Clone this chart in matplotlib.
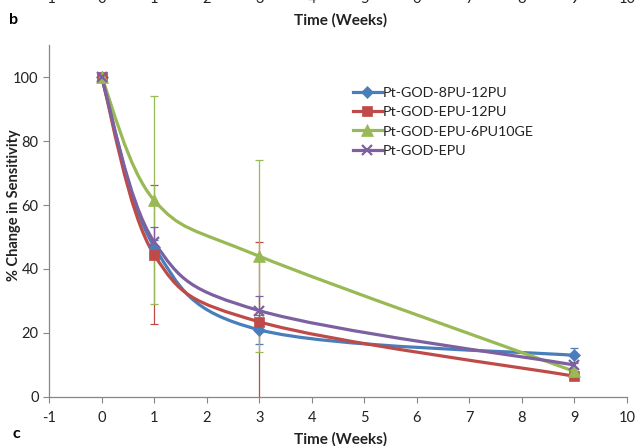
import matplotlib
matplotlib.use("Agg")
import numpy as np
from matplotlib import pyplot as plt
from matplotlib.path import Path
from matplotlib.patches import PathPatch
from matplotlib.lines import Line2D

plt.rcParams["font.family"] = ["Lato", "DejaVu Sans"]
plt.rcParams["axes.unicode_minus"] = False

# data
weeks = [0, 1, 3, 9]
labels = ["Pt-GOD-8PU-12PU", "Pt-GOD-EPU-12PU", "Pt-GOD-EPU-6PU10GE", "Pt-GOD-EPU"]
blue_vals = [100, 47, 21, 13]
red_vals = [100, 44.5, 23.5, 6.5]
green_vals = [100, 61.5, 44, 8]
purple_vals = [100, 48.5, 27, 10]
blue_err = [0, 2, 4.5, 2.3]
red_err = [0, 21.7, 25, 1]
green_err = [0, 32.5, 30, 1]
purple_err = [0, 4.5, 4.6, 1]
xticks = list(range(-1, 11))
yticks = [0, 20, 40, 60, 80, 100]

series = [
    (blue_vals, blue_err, "#4A7EBB", "D", 6),
    (red_vals, red_err, "#BE4B48", "s", 7.5),
    (green_vals, green_err, "#98B954", "^", 8),
    (purple_vals, purple_err, "#7D60A0", "x", 7),
]


def smooth_path(xs, ys, t=1 / 6):
    # Excel style smoothed line: cubic bezier through every point
    pts = np.column_stack([xs, ys]).astype(float)
    n = len(pts)
    verts = [pts[0]]
    codes = [Path.MOVETO]
    for i in range(n - 1):
        p_prev = pts[max(i - 1, 0)]
        p0 = pts[i]
        p1 = pts[i + 1]
        p_next = pts[min(i + 2, n - 1)]
        c1 = p0 + (p1 - p_prev) * t
        c2 = p1 - (p_next - p0) * t
        verts += [c1, c2, p1]
        codes += [Path.CURVE4] * 3
    return Path(verts, codes)


fig = plt.figure(figsize=(6.36, 4.46), dpi=100)
ax = fig.add_axes([49 / 636, 1 - 397 / 446, 578 / 636, 352 / 446])

handles = []
for vals, err, col, mk, ms in series:
    ax.errorbar(weeks, vals, yerr=err, fmt="none", ecolor=col, elinewidth=0.9,
                capsize=3, capthick=0.9, zorder=1)
for vals, err, col, mk, ms in series:
    ax.add_patch(PathPatch(smooth_path(weeks, vals), fill=False, edgecolor=col,
                           linewidth=2.3, zorder=2, capstyle="round"))
    ax.plot(weeks, vals, linestyle="none", marker=mk, color=col, markersize=ms,
            markeredgewidth=1.6 if mk == "x" else 0.5, zorder=3)
    handles.append(Line2D([], [], color=col, linewidth=2.3, marker=mk,
                          markersize=ms, markeredgewidth=1.6 if mk == "x" else 0.5))

ax.set_xlim(-1, 10)
ax.set_ylim(0, 110)
ax.set_xticks(xticks)
ax.set_yticks(yticks)
for s in ["top", "right"]:
    ax.spines[s].set_visible(False)
for s in ["left", "bottom"]:
    ax.spines[s].set_color("#868686")
    ax.spines[s].set_linewidth(0.9)
ax.tick_params(colors="#868686", labelcolor="#222222", labelsize=10.5,
               length=4, width=0.8, direction="out")
ax.tick_params(axis="x", pad=6)

ax.set_ylabel("% Change in Sensitivity", fontsize=10.5, fontweight="bold",
              color="#222222")
ax.yaxis.set_label_coords(-0.048, 0.545)

leg = ax.legend(handles, labels, loc="upper left", frameon=False, fontsize=10.3,
                bbox_to_anchor=(346 / 636, 1 - 80 / 446),
                bbox_transform=fig.transFigure, borderpad=0, handlelength=2.0,
                handletextpad=0.05, labelspacing=0.5)
for txt in leg.get_texts():
    txt.set_color("#222222")

# cropped neighbouring panels from the original figure
fig.text(341 / 636, 1 - 439 / 446, "Time (Weeks)", ha="center", va="center",
         fontsize=11, fontweight="bold", color="#222222")
fig.text(341 / 636, 1 - 20 / 446, "Time (Weeks)", ha="center", va="center",
         fontsize=11, fontweight="bold", color="#222222")
for xt in xticks:
    xf = (49 + (xt + 1) * 578 / 11) / 636
    fig.text(xf, 1 + 1 / 446, str(xt), ha="center", va="center",
             fontsize=10.5, color="#222222")
fig.text(14 / 636, 1 - 20 / 446, "b", ha="center", va="center",
         fontsize=11.5, fontweight="bold")
fig.text(16 / 636, 1 - 434 / 446, "c", ha="center", va="center",
         fontsize=11.5, fontweight="bold")

fig.savefig("out.png", dpi=100)
